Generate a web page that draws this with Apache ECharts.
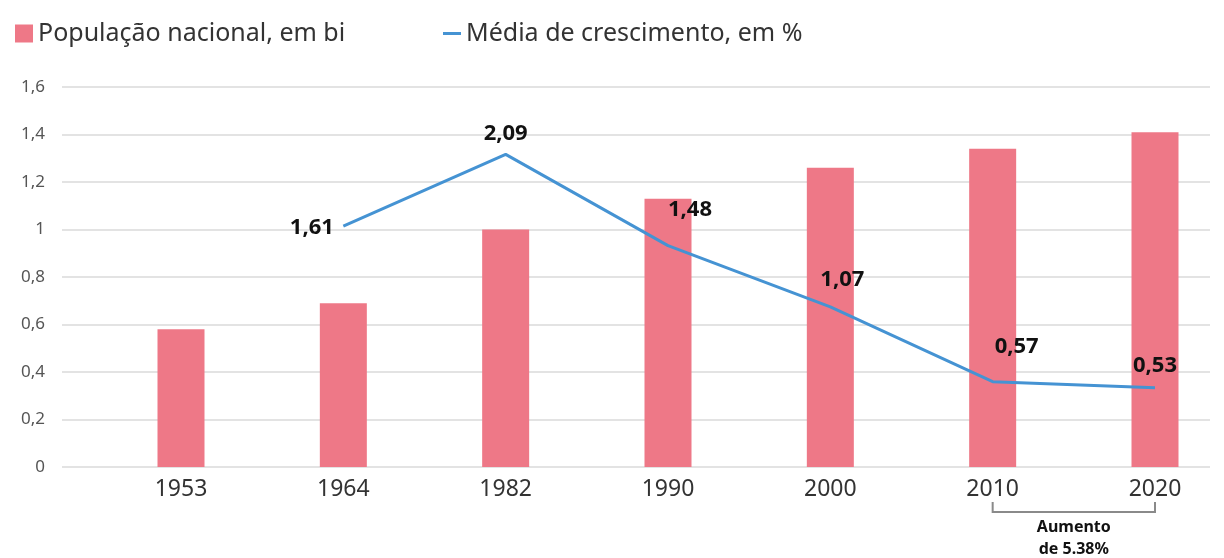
<!DOCTYPE html>
<html>
<head>
<meta charset="utf-8">
<script src="https://cdn.jsdelivr.net/npm/echarts@6/dist/echarts.min.js"></script>
<style>
  html, body { margin: 0; padding: 0; background: #fff; }
  #chart { width: 1224px; height: 558px; }
</style>
</head>
<body>
<div id="chart"></div>
<script>
// dados
var years = ['1953', '1964', '1982', '1990', '2000', '2010', '2020'];
var population = [0.58, 0.69, 1.0, 1.13, 1.26, 1.34, 1.41];
var growth = [null, 1.61, 2.09, 1.48, 1.07, 0.57, 0.53];
var yTicks = [0, 0.2, 0.4, 0.6, 0.8, 1, 1.2, 1.4, 1.6];
var seriesNames = ['População nacional, em bi', 'Média de crescimento, em %'];
var noteText = 'Aumento\nde 5.38%';

var FONT = '"Noto Sans", sans-serif';
var PINK = '#ee7887';
var BLUE = '#4593d3';

// posição dos rótulos da linha (à mão, como no original)
var labelPos = [null,
  { position: 'left', offset: [-4, 2] },
  { position: 'top', offset: [0, -4] },
  { position: 'top', offset: [22, -19] },
  { position: 'top', offset: [12, -11] },
  { position: 'top', offset: [24, -18] },
  { position: 'top', offset: [0, -5] }
];

var lineData = growth.map(function (v, i) {
  if (v == null) return null;
  var p = labelPos[i];
  return {
    value: v,
    label: {
      show: true,
      position: p.position,
      offset: p.offset,
      formatter: v.toFixed(2).replace('.', ','),
      fontFamily: FONT,
      fontWeight: 'bold',
      fontSize: 22,
      color: '#111'
    }
  };
});

var legendText = { fontSize: 25, color: '#333', fontFamily: FONT };

var chart = echarts.init(document.getElementById('chart'));
chart.setOption({
  animation: false,
  textStyle: { fontFamily: FONT },
  legend: [
    {
      left: 10, top: 16,
      itemWidth: 18, itemHeight: 18,
      textStyle: legendText,
      data: [{ name: seriesNames[0], icon: 'rect' }]
    },
    {
      left: 438, top: 16,
      itemWidth: 18, itemHeight: 3,
      textStyle: legendText,
      data: [{ name: seriesNames[1], icon: 'rect', itemStyle: { color: BLUE, opacity: 1 } }]
    }
  ],
  grid: [
    { left: 62, right: 14, top: 87, bottom: 91 },
    { left: 181, right: 69, top: 87, bottom: 91 }
  ],
  xAxis: [
    { gridIndex: 0, type: 'value', show: false },
    {
      gridIndex: 1,
      type: 'category',
      data: years,
      boundaryGap: false,
      axisLine: { show: false },
      axisTick: { show: false },
      axisLabel: { fontSize: 23, color: '#333', margin: 11, fontFamily: FONT }
    }
  ],
  yAxis: [
    {
      gridIndex: 0,
      type: 'value',
      min: 0,
      max: 1.6,
      interval: 0.2,
      axisLine: { show: false },
      axisTick: { show: false },
      axisLabel: {
        fontSize: 17,
        color: '#555',
        margin: 17,
        fontFamily: FONT,
        formatter: function (v) {
          var t = yTicks.find(function (k) { return Math.abs(k - v) < 1e-6; });
          return String(t).replace('.', ',');
        }
      },
      splitLine: { lineStyle: { color: '#e3e3e3', width: 2 } }
    },
    { gridIndex: 1, type: 'value', min: 0, max: 1.6, show: false },
    { gridIndex: 1, type: 'value', min: 0, max: 2.54, show: false }
  ],
  series: [
    {
      name: seriesNames[0],
      type: 'bar',
      xAxisIndex: 1,
      yAxisIndex: 1,
      data: population,
      barWidth: 47,
      clip: false,
      itemStyle: { color: PINK }
    },
    {
      name: seriesNames[1],
      type: 'line',
      xAxisIndex: 1,
      yAxisIndex: 2,
      data: lineData,
      symbol: 'circle',
      symbolSize: 1,
      showSymbol: true,
      clip: false,
      lineStyle: { color: BLUE, width: 3 },
      itemStyle: { color: 'rgba(0,0,0,0)', borderWidth: 0 },
      z: 5
    }
  ]
});

// colchete de anotação entre 2010 e 2020
var pA = chart.convertToPixel({ xAxisIndex: 1, yAxisIndex: 1 }, [years[5], 0]);
var pB = chart.convertToPixel({ xAxisIndex: 1, yAxisIndex: 1 }, [years[6], 0]);
var yTop = pA[1] + 35, yBot = pA[1] + 45;
chart.setOption({
  graphic: [
    {
      type: 'polyline',
      shape: { points: [[pA[0], yTop], [pA[0], yBot], [pB[0], yBot], [pB[0], yTop]] },
      style: { stroke: '#8a8a8a', lineWidth: 2, fill: null }
    },
    {
      type: 'text',
      x: (pA[0] + pB[0]) / 2,
      y: yBot + 4,
      style: {
        text: noteText,
        fontFamily: FONT,
        fontWeight: 'bold',
        fontSize: 16,
        lineHeight: 22,
        fill: '#111',
        align: 'center',
        verticalAlign: 'top'
      }
    }
  ]
});
</script>
</body>
</html>
